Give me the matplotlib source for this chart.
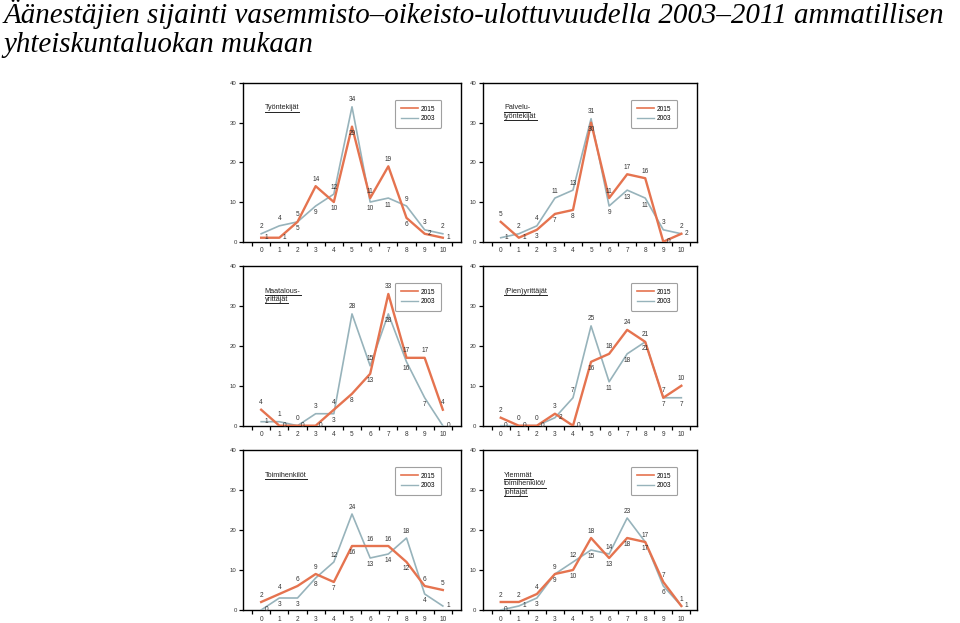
import matplotlib
matplotlib.use("Agg")
import matplotlib.pyplot as plt
from matplotlib.lines import Line2D
import numpy as np

x_vals = list(range(11))
x_labels = [str(v) for v in x_vals]
series_names = ["2015", "2003"]

panel_titles = [
    ["Työntekijät"],
    ["Palvelu-", "työntekijät"],
    ["Maatalous-", "yrittäjät"],
    ["(Pien)yrittäjät"],
    ["Toimihenkilöt"],
    ["Ylemmät", "toimihenkilöt/", "johtajat"],
]

tyontekijat_2015 = [1, 1, 5, 14, 10, 29, 11, 19, 6, 2, 1]
tyontekijat_2003 = [2, 4, 5, 9, 12, 34, 10, 11, 9, 3, 2]
palvelu_2015 = [5, 1, 3, 7, 8, 30, 11, 17, 16, 0, 2]
palvelu_2003 = [1, 2, 4, 11, 13, 31, 9, 13, 11, 3, 2]
maatalous_2015 = [4, 0, 0, 0, 4, 8, 13, 33, 17, 17, 4]
maatalous_2003 = [1, 1, 0, 3, 3, 28, 15, 28, 16, 7, 0]
pienyrittajat_2015 = [2, 0, 0, 3, 0, 16, 18, 24, 21, 7, 10]
pienyrittajat_2003 = [0, 0, 0, 2, 7, 25, 11, 18, 21, 7, 7]
toimihenkilot_2015 = [2, 4, 6, 9, 7, 16, 16, 16, 12, 6, 5]
toimihenkilot_2003 = [0, 3, 3, 8, 12, 24, 13, 14, 18, 4, 1]
ylemmat_2015 = [2, 2, 4, 9, 10, 18, 13, 18, 17, 7, 1]
ylemmat_2003 = [0, 1, 3, 9, 12, 15, 14, 23, 17, 6, 1]

panel_data = [
    (tyontekijat_2015, tyontekijat_2003),
    (palvelu_2015, palvelu_2003),
    (maatalous_2015, maatalous_2003),
    (pienyrittajat_2015, pienyrittajat_2003),
    (toimihenkilot_2015, toimihenkilot_2003),
    (ylemmat_2015, ylemmat_2003),
]

title_line1 = "Äänestäjien sijainti vasemmisto–oikeisto-ulottuvuudella 2003–2011 ammatillisen"
title_line2 = "yhteiskuntaluokan mukaan"

RED = "#E5734F"
BLUE = "#97B3BB"
SANS = "Liberation Sans"

fig = plt.figure(figsize=(9.6, 6.23), dpi=100)
fig.patch.set_facecolor("white")

fig.text(0.004, 1 - 23 / 623, title_line1, family="Liberation Serif", style="italic",
         fontsize=20.9, color="black", va="baseline", ha="left")
fig.text(0.004, 1 - 52 / 623, title_line2, family="Liberation Serif", style="italic",
         fontsize=20.9, color="black", va="baseline", ha="left")

col_x = [(243 / 960, 218 / 960, 11.0), (482.7 / 960, 214 / 960, 10.85)]
row_y = [(83, 241.7), (266, 425.7), (450, 610)]


def put_label(ax, xi, v, above):
    kw = dict(textcoords="offset points", fontsize=4.7, color="#333333", family=SANS, zorder=6)
    if above:
        ax.annotate(str(v), (xi, v), xytext=(0, 2.5), ha="center", va="bottom", **kw)
    elif v <= 2:
        ax.annotate(str(v), (xi, v), xytext=(2.5, 0.5), ha="left", va="center", **kw)
    else:
        ax.annotate(str(v), (xi, v), xytext=(0, -2.5), ha="center", va="top", **kw)


title_texts = []
for i, (d15, d03) in enumerate(panel_data):
    r, c = divmod(i, 2)
    x0, w, xmax = col_x[c]
    top, bot = row_y[r]
    ax = fig.add_axes([x0, 1 - bot / 623, w, (bot - top) / 623])
    ax.set_xlim(-1, xmax)
    ax.set_ylim(0, 40)
    ax.plot(x_vals, d03, color=BLUE, lw=1.2, zorder=3)
    ax.plot(x_vals, d15, color=RED, lw=1.7, zorder=4)
    handles = [Line2D([], [], color=RED, lw=1.2), Line2D([], [], color=BLUE, lw=1.0)]
    leg = ax.legend(handles, series_names, loc="upper right", bbox_to_anchor=(0.91, 0.895),
                    frameon=True, fancybox=True, edgecolor="#888888",
                    handlelength=2.6, borderpad=0.9, labelspacing=0.35, handletextpad=0.5,
                    borderaxespad=0.0, prop={"family": SANS, "size": 4.7})
    leg.get_frame().set_linewidth(0.8)
    for xi, a, b in zip(x_vals, d15, d03):
        put_label(ax, xi, a, a >= b)
        put_label(ax, xi, b, b > a)
    ax.set_yticks([0, 10, 20, 30, 40])
    ax.set_yticklabels(["0", "10", "20", "30", "40"], family=SANS, fontsize=4.3, color="#333333")
    ax.set_xticks(x_vals)
    ax.set_xticklabels(x_labels, family=SANS, fontsize=4.7, color="#333333")
    ax.set_xticks(np.arange(-0.5, 10.6, 1.0), minor=True)
    ax.tick_params(axis="x", which="major", length=0, pad=4)
    ax.tick_params(axis="x", which="minor", length=3, width=0.9, direction="out")
    ax.tick_params(axis="y", length=3, width=0.9, direction="out", pad=1.5)
    for sp in ax.spines.values():
        sp.set_linewidth(1.0)
        sp.set_color("black")
    for k, line in enumerate(panel_titles[i]):
        t = ax.annotate(line, (0.10, 0.865), xycoords="axes fraction",
                        xytext=(0, -k * 6.2), textcoords="offset points",
                        ha="left", va="top", fontsize=5.2, family=SANS, color="#222222")
        title_texts.append((ax, t))

fig.canvas.draw()
renderer = fig.canvas.get_renderer()
for ax, t in title_texts:
    bb = t.get_window_extent(renderer)
    y = bb.y0 - 0.3
    fig.add_artist(Line2D([bb.x0 / 960, bb.x1 / 960], [y / 623, y / 623],
                          color="#222222", lw=0.7, transform=fig.transFigure))

fig.savefig("out.png", dpi=100, facecolor="white")
